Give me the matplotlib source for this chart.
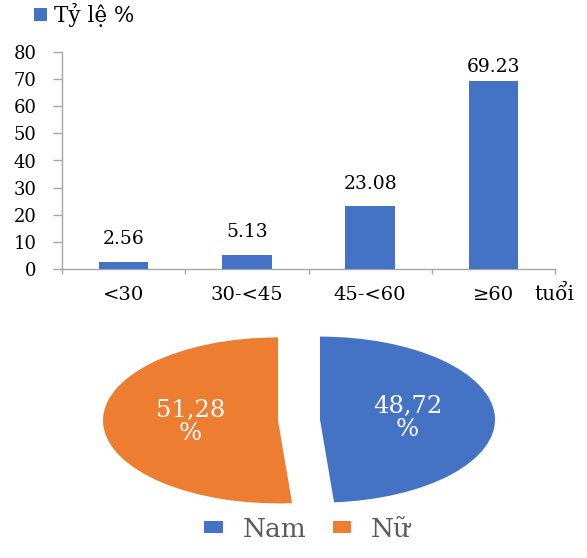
import matplotlib
matplotlib.use("Agg")
import matplotlib.pyplot as plt
import numpy as np

# ---- data ----
age_groups = ["<30", "30-<45", "45-<60", "≥60"]
age_pct = [2.56, 5.13, 23.08, 69.23]
y_ticks = [0, 10, 20, 30, 40, 50, 60, 70, 80]
bar_series_name = "Tỷ lệ %"
x_unit = "tuổi"

sex_labels = ["Nam", "Nữ"]
sex_pct = [48.72, 51.28]

BLUE = "#4472C4"
ORANGE = "#ED7D31"
AXIS = "#A6A6A6"
FONT = "DejaVu Serif"

plt.rcParams["font.family"] = [FONT, "DejaVu Sans"]

fig = plt.figure(figsize=(5.87, 5.58), dpi=100)

# ---- bar chart ----
ax = fig.add_axes([62 / 587, 1 - 269 / 558, 493 / 587, 217 / 558])
x = np.arange(len(age_groups))
bars = ax.bar(x, age_pct, width=0.4, color=BLUE, label=bar_series_name, zorder=3)
ax.set_xlim(-0.5, len(age_groups) - 0.5)
ax.set_ylim(y_ticks[0], y_ticks[-1])
ax.set_yticks(y_ticks)
ax.tick_params(axis="y", direction="out", length=6.5, width=1, color=AXIS,
               pad=12, labelsize=13, labelcolor="black")
ax.set_xticks(np.arange(len(age_groups) + 1) - 0.5)
ax.set_xticklabels([])
ax.tick_params(axis="x", which="major", direction="out", length=3.8, width=1, color=AXIS)
ax.set_xticks(x, minor=True)
ax.set_xticklabels(age_groups, minor=True)
ax.tick_params(axis="x", which="minor", length=0, pad=12, labelsize=14, labelcolor="black")
for s in ["top", "right"]:
    ax.spines[s].set_visible(False)
for s in ["left", "bottom"]:
    ax.spines[s].set_color(AXIS)
    ax.spines[s].set_linewidth(1)

pads = [10, 10, 10, 4]
for xi, v, p in zip(x, age_pct, pads):
    ax.annotate(f"{v:.2f}", (xi, v), xytext=(0, p), textcoords="offset points",
                ha="center", va="bottom", fontsize=13.5, color="black")

fig.text(534 / 587, 1 - 294 / 558, x_unit, fontsize=14.5, va="center", ha="left")

fig.legend(handles=[bars], labels=[bar_series_name], loc="upper left",
           bbox_to_anchor=(34 / 587, 1 - 3 / 558), frameon=False, borderpad=0,
           borderaxespad=0, handlelength=0.6, handleheight=0.6, handletextpad=0.35,
           fontsize=15.5)

# ---- pie chart ----
pax = fig.add_axes([71.5 / 587, 46.7 / 558, 455 / 587, 182.6 / 558])


def fmt(p):
    return f"{p:.2f}".replace(".", ",") + "\n%"


wedges, texts, autotexts = pax.pie(
    sex_pct, colors=[BLUE, ORANGE], startangle=90, counterclock=False,
    explode=[0.12, 0.12], autopct=fmt, pctdistance=0.5,
    textprops=dict(color="white", fontsize=17.5),
)
for t in autotexts:
    t.set_linespacing(1.0)
pax.set_aspect("auto")
pax.set_xlim(-1.3, 1.3)
pax.set_ylim(-1.1, 1.1)
pax.axis("off")

fig.legend(handles=wedges, labels=sex_labels, loc="lower center", ncol=2,
           bbox_to_anchor=(0.524, -0.004), frameon=False, borderpad=0.2,
           handlelength=0.7, handleheight=0.3, handletextpad=0.75,
           columnspacing=1.0, fontsize=19, labelcolor="#595959")

fig.savefig("out.png", dpi=100)
